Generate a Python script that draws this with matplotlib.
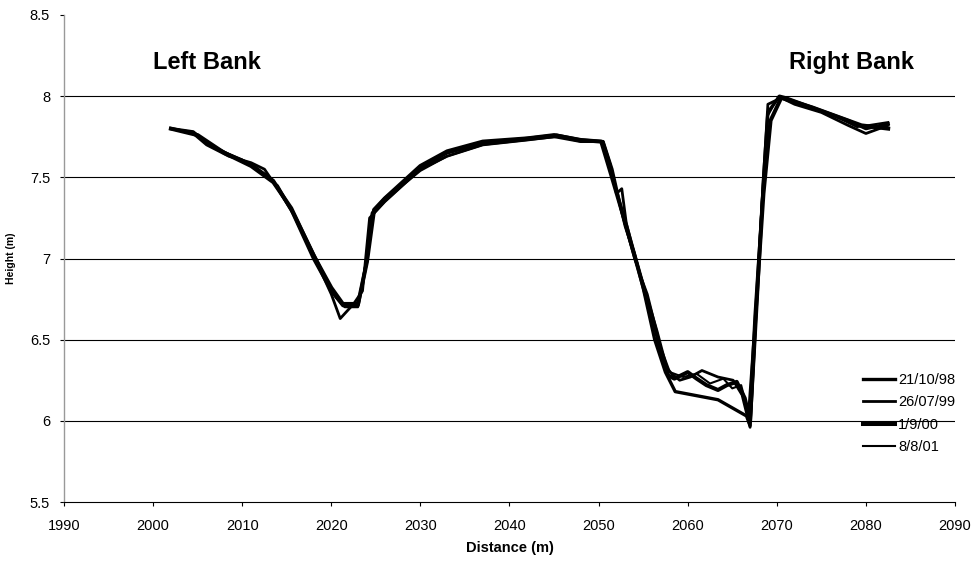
import matplotlib
matplotlib.use("Agg")
import matplotlib.pyplot as plt

plt.rcParams['font.family'] = ['Liberation Sans', 'DejaVu Sans']

# survey data, distance (m) vs bed height (m)
x_9810 = [2002, 2004.5, 2006, 2008.5, 2011, 2013.5, 2015.5, 2018, 2020, 2021.3,
          2023, 2024, 2024.6, 2026, 2028, 2030, 2033, 2037, 2042, 2045.3,
          2048, 2050.5, 2051.5, 2052.2, 2053, 2054, 2055, 2056.3, 2057.5, 2058.6,
          2063.4, 2066.6, 2067, 2067.8, 2068.5, 2069, 2070.3, 2071, 2075, 2078,
          2080, 2082.5]
h_9810 = [7.80, 7.78, 7.71, 7.64, 7.58, 7.48, 7.30, 7.00, 6.80, 6.71,
          6.71, 6.99, 7.28, 7.37, 7.46, 7.56, 7.65, 7.71, 7.74, 7.76,
          7.73, 7.72, 7.55, 7.38, 7.20, 7.03, 6.82, 6.50, 6.30, 6.18,
          6.13, 6.03, 5.97, 6.75, 7.48, 7.90, 8.00, 7.99, 7.91, 7.85,
          7.80, 7.83]

x_9907 = [2002, 2004.5, 2006, 2008.5, 2011, 2012.5, 2014, 2016, 2018, 2020,
          2021, 2022.5, 2023.5, 2024.3, 2026, 2028, 2030, 2033, 2037, 2042,
          2045, 2048, 2050.5, 2051.3, 2052, 2052.6, 2053.1, 2053.9, 2055.6, 2057.3,
          2058.2, 2059.1, 2060.3, 2061.6, 2063.4, 2065.1, 2066.1, 2067, 2067.7, 2068.5,
          2069, 2070.5, 2072, 2075, 2078, 2080, 2082.5]
h_9907 = [7.80, 7.77, 7.70, 7.63, 7.59, 7.55, 7.43, 7.25, 7.02, 6.78,
          6.63, 6.72, 6.80, 7.25, 7.35, 7.45, 7.55, 7.63, 7.70, 7.73,
          7.75, 7.72, 7.72, 7.58, 7.40, 7.43, 7.22, 7.05, 6.72, 6.35,
          6.29, 6.25, 6.27, 6.31, 6.27, 6.25, 6.16, 5.96, 6.70, 7.50,
          7.95, 7.99, 7.95, 7.90, 7.82, 7.77, 7.82]

x_0009 = [2002, 2005, 2008, 2011, 2013.5, 2015.5, 2018, 2020, 2021.3, 2023,
          2024, 2024.8, 2026, 2028, 2030, 2033, 2037, 2042, 2045, 2048,
          2050.3, 2051.5, 2053, 2055, 2056.5, 2057.8, 2058.5, 2060, 2061, 2062.1,
          2063.4, 2064.4, 2065.5, 2066.4, 2067, 2067.6, 2068.5, 2069.3, 2070.5, 2074,
          2077, 2079.5, 2082.5]
h_0009 = [7.80, 7.76, 7.65, 7.57, 7.47, 7.31, 7.02, 6.82, 6.72, 6.72,
          6.98, 7.30, 7.37, 7.47, 7.57, 7.66, 7.72, 7.74, 7.76, 7.73,
          7.72, 7.50, 7.22, 6.83, 6.55, 6.28, 6.26, 6.30, 6.26, 6.22,
          6.19, 6.22, 6.24, 6.14, 6.00, 6.65, 7.40, 7.85, 7.99, 7.93,
          7.87, 7.82, 7.80]

x_0108 = [2002, 2004.5, 2007, 2010, 2012.5, 2014, 2016, 2018.5, 2020.5, 2021.5,
          2023, 2023.8, 2024.5, 2026, 2028, 2030, 2033, 2037, 2042, 2045.5,
          2048, 2050.5, 2051.5, 2052.5, 2054, 2055.5, 2057, 2058, 2059.5, 2061,
          2062.5, 2064, 2065, 2066, 2066.8, 2067.5, 2068.3, 2069, 2070.2, 2073,
          2076, 2079, 2082.5]
h_0108 = [7.80, 7.78, 7.68, 7.61, 7.52, 7.45, 7.26, 6.98, 6.76, 6.70,
          6.70, 6.95, 7.26, 7.35, 7.45, 7.54, 7.63, 7.70, 7.73, 7.75,
          7.72, 7.72, 7.52, 7.30, 7.00, 6.78, 6.45, 6.30, 6.27, 6.29,
          6.23, 6.26, 6.20, 6.22, 6.05, 6.60, 7.35, 7.88, 8.00, 7.94,
          7.89, 7.81, 7.84]

labels = ["21/10/98", "26/07/99", "1/9/00", "8/8/01"]
widths = [2.4, 2.0, 2.9, 1.5]
xs = [x_9810, x_9907, x_0009, x_0108]
hs = [h_9810, h_9907, h_0009, h_0108]

xticks = [1990, 2000, 2010, 2020, 2030, 2040, 2050, 2060, 2070, 2080, 2090]
yticks = [5.5, 6, 6.5, 7, 7.5, 8, 8.5]

fig = plt.figure(figsize=(9.77, 5.62), dpi=100)
ax = fig.add_axes([64/977, 1-502/562, (955-64)/977, (502-15)/562])

# gridlines
for yv in yticks[1:-1]:
    ax.axhline(yv, color='black', lw=0.8, zorder=1)

for i in range(len(labels)):
    ax.plot(xs[i], hs[i], color='black', lw=widths[i], label=labels[i], zorder=3)

ax.set_xlim(1990, 2090)
ax.set_ylim(5.5, 8.5)
ax.set_xticks(xticks)
ax.set_yticks(yticks)
ax.set_yticklabels(['%g' % v for v in yticks])
ax.tick_params(axis='both', labelsize=10.5, direction='out', length=3, width=0.8)
ax.tick_params(axis='x', pad=9)
ax.tick_params(axis='y', pad=7)

ax.spines['top'].set_visible(False)
ax.spines['right'].set_visible(False)
ax.spines['left'].set_color('#999999')
ax.spines['left'].set_linewidth(1.0)
ax.spines['bottom'].set_color('black')

ax.set_xlabel('Distance (m)', fontsize=10.5, fontweight='bold', labelpad=6)
ax.set_ylabel('Height (m)', fontsize=7.5, fontweight='bold', labelpad=10)

ax.text(2000, 8.21, 'Left Bank', fontsize=17, fontweight='bold', va='center', ha='left')
ax.text(2071.4, 8.21, 'Right Bank', fontsize=17, fontweight='bold', va='center', ha='left')

ax.legend(loc='upper left', bbox_to_anchor=(863/977, 1-373/562),
          bbox_transform=fig.transFigure, frameon=False, fontsize=10.5,
          borderpad=0, borderaxespad=0, handlelength=2.2, handletextpad=0.2,
          labelspacing=0.58)

fig.savefig('out.png', dpi=100)
